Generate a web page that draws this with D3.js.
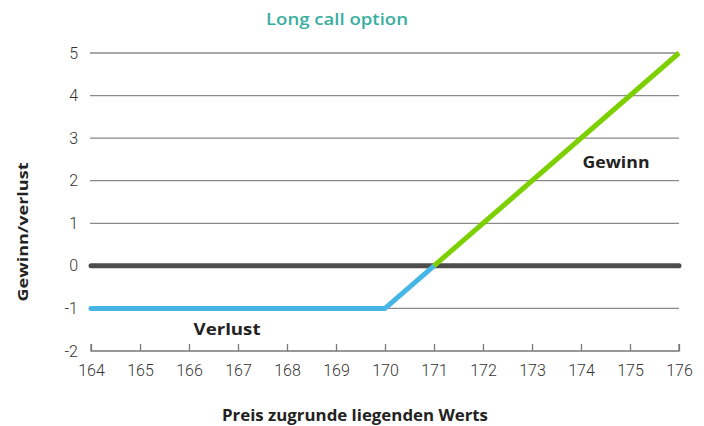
<!DOCTYPE html>
<html><head><meta charset="utf-8">
<script src="https://cdn.jsdelivr.net/npm/d3@7"></script>
<style>body{margin:0;background:#fff}svg{display:block}</style>
</head><body>
<script>
const xTicks = [164,165,166,167,168,169,170,171,172,173,174,175,176];
const yTicks = [-2,-1,0,1,2,3,4,5];
const lossX = [164,170,171];
const lossY = [-1,-1,0];
const gainX = [171,176];
const gainY = [0,5];
const zeroX = [164,176];
const zeroY = [0,0];

const W=704,H=426;
const svg=d3.select("body").append("svg").attr("width",W).attr("height",H);
const x=d3.scaleLinear().domain([164,176]).range([91,679]);
const y=d3.scaleLinear().domain([-2,5]).range([351,53]);
const font="'Open Sans', Roboto, 'DejaVu Sans', sans-serif";
const tfont="Roboto, 'DejaVu Sans', sans-serif";

svg.append("g").selectAll("line").data(yTicks.filter(d=>d>-2 && d!==0)).join("line")
 .attr("x1",x(164)-1).attr("x2",x(176)).attr("y1",d=>y(d)).attr("y2",d=>y(d))
 .attr("stroke","#8a8a8a").attr("stroke-width",1.3);

svg.append("g").selectAll("text").data(yTicks).join("text")
 .attr("x",78).attr("y",d=>y(d)).attr("dy","0.35em").attr("text-anchor","end")
 .attr("font-family",tfont).attr("font-weight",300).attr("font-size",16).attr("fill","#333")
 .text(d=>d);

const xa=d3.axisBottom(x).tickValues(xTicks).tickSize(-7).tickPadding(14).tickFormat(d3.format("d"));
const g=svg.append("g").attr("transform",`translate(0,${y(-2)})`).call(xa);
g.select(".domain").attr("stroke","#777").attr("stroke-width",1.3).attr("d",`M${x(164)},-7V0H${x(176)}V-7`);
g.selectAll(".tick line").attr("stroke","#777").attr("stroke-width",1.3);
g.selectAll(".tick text").attr("font-family",tfont).attr("font-weight",300).attr("font-size",16).attr("fill","#333");

const line=d3.line().x(d=>x(d[0])).y(d=>y(d[1]));
svg.append("path").datum(zeroX.map((v,i)=>[v,zeroY[i]])).attr("d",line)
 .attr("stroke","#4d4d4d").attr("stroke-width",5).attr("fill","none").attr("stroke-linecap","round");
svg.append("path").datum(lossX.map((v,i)=>[v,lossY[i]])).attr("d",line)
 .attr("stroke","#45b6e6").attr("stroke-width",5).attr("fill","none").attr("stroke-linecap","round").attr("stroke-linejoin","round");
svg.append("path").datum(gainX.map((v,i)=>[v,gainY[i]])).attr("d",line)
 .attr("stroke","#7dd000").attr("stroke-width",5).attr("fill","none").attr("stroke-linecap","butt");

function label(t,xx,yy,size,weight,fill,len,rot){
  const el=svg.append("text").attr("text-anchor","middle")
   .attr("font-family",font).attr("font-size",size).attr("font-weight",weight).attr("fill",fill)
   .attr("textLength",len).attr("lengthAdjust","spacingAndGlyphs").text(t);
  if(rot) el.attr("transform",`translate(${xx},${yy}) rotate(-90)`);
  else el.attr("x",xx).attr("y",yy);
}
label("Long call option",337,25,17,600,"#3aaea0",142);
label("Gewinn",616,168,16,700,"#222",67);
label("Verlust",227,335,16,700,"#222",67);
label("Gewinn/verlust",28,232,15,700,"#222",139,true);
label("Preis zugrunde liegenden Werts",355,421,16,700,"#222",266);
</script>
</body></html>
